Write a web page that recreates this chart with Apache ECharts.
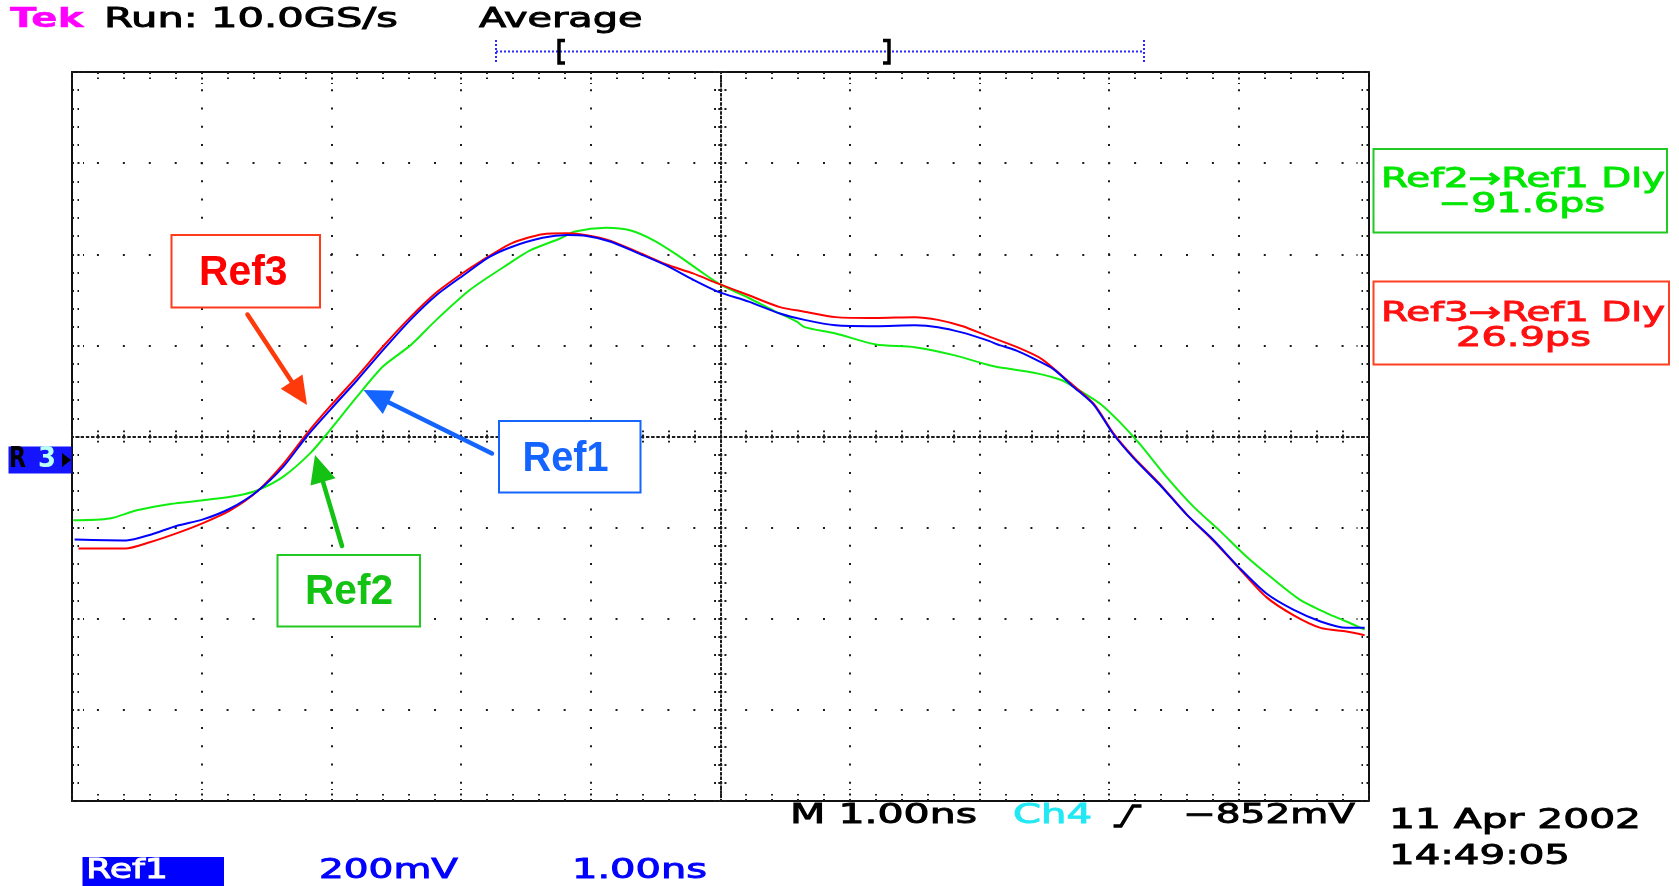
<!DOCTYPE html>
<html>
<head>
<meta charset="utf-8">
<script src="https://cdn.jsdelivr.net/npm/echarts@6/dist/echarts.min.js"></script>
<style>
  html, body { margin: 0; padding: 0; background: #ffffff; }
  #scope { width: 1679px; height: 886px; }
</style>
</head>
<body>
<div id="scope"></div>
<script>
// Horizontal: 1.00 ns/div over 10 divisions, vertical: 200 mV/div over 8 divisions
const timeRange = [-5, 5];
const timePerDiv = 1;
const voltRange = [-800, 800];
const voltPerDiv = 200;

// Reference waveforms, [time ns, level mV]
const ref1 = [
  [-4.98, -226], [-4.58, -228], [-4.40, -216], [-4.19, -196], [-3.99, -182], [-3.78, -158],
  [-3.57, -120], [-3.37, -66], [-3.19, 0], [-3.01, 58], [-2.80, 124], [-2.60, 190],
  [-2.39, 256], [-2.19, 310], [-1.98, 354], [-1.78, 394], [-1.61, 416], [-1.37, 436],
  [-1.18, 442], [-1.03, 440], [-0.85, 428], [-0.63, 402], [-0.42, 376], [-0.21, 344],
  [-0.02, 318], [0.22, 296], [0.46, 270], [0.65, 256], [0.89, 244], [1.20, 242],
  [1.50, 244], [1.68, 240], [1.87, 228], [2.05, 212], [2.16, 200], [2.29, 188],
  [2.41, 172], [2.57, 148], [2.72, 110], [2.88, 70], [3.03, 6], [3.19, -48],
  [3.39, -106], [3.60, -172], [3.80, -226], [4.01, -290], [4.21, -344], [4.42, -380],
  [4.63, -406], [4.83, -420], [4.97, -420]
];
const ref2 = [
  [-4.99, -184], [-4.71, -180], [-4.50, -162], [-4.24, -148], [-3.99, -140], [-3.73, -130],
  [-3.57, -118], [-3.37, -88], [-3.16, -36], [-3.01, 14], [-2.80, 88], [-2.60, 154],
  [-2.39, 200], [-2.19, 256], [-1.93, 322], [-1.67, 372], [-1.47, 408], [-1.24, 434],
  [-1.12, 450], [-0.88, 458], [-0.69, 452], [-0.51, 430], [-0.33, 398], [-0.15, 362],
  [0.01, 332], [0.22, 304], [0.40, 278], [0.59, 252], [0.65, 240], [0.89, 226],
  [1.20, 202], [1.50, 196], [1.81, 178], [2.11, 154], [2.42, 140], [2.63, 124],
  [2.72, 110], [2.93, 72], [3.08, 32], [3.24, -18], [3.44, -88], [3.65, -154],
  [3.85, -206], [4.06, -264], [4.27, -314], [4.47, -358], [4.68, -388], [4.83, -406],
  [4.97, -424]
];
const ref3 = [
  [-4.95, -246], [-4.59, -246], [-4.40, -232], [-4.19, -212], [-3.99, -190], [-3.78, -162],
  [-3.57, -120], [-3.37, -60], [-3.19, 6], [-3.01, 66], [-2.80, 132], [-2.60, 198],
  [-2.39, 262], [-2.19, 316], [-1.98, 360], [-1.85, 384], [-1.61, 424], [-1.37, 444],
  [-1.18, 446], [-1.03, 442], [-0.85, 430], [-0.63, 404], [-0.42, 378], [-0.21, 358],
  [-0.02, 336], [0.22, 310], [0.46, 284], [0.65, 274], [0.89, 262], [1.20, 260],
  [1.50, 262], [1.68, 256], [1.87, 242], [2.05, 222], [2.29, 196], [2.48, 170],
  [2.69, 120], [2.88, 72], [3.03, 8], [3.19, -46], [3.39, -104], [3.60, -172],
  [3.80, -228], [4.01, -292], [4.21, -352], [4.42, -392], [4.63, -420], [4.83, -428],
  [4.97, -436]
];

// Delay readouts
const delayRef2 = { label: 'Ref2\u2192Ref1 Dly', value: '\u221291.6ps' };
const delayRef3 = { label: 'Ref3\u2192Ref1 Dly', value: '26.9ps' };

// Grid geometry of the graticule
const grid = { left: 72, top: 72, right: 310.5, bottom: 85 };
const W = 1679, H = 886;
const gridW = W - grid.left - grid.right;
const gridH = H - grid.top - grid.bottom;
const xDivs = (timeRange[1] - timeRange[0]) / timePerDiv;
const yDivs = (voltRange[1] - voltRange[0]) / voltPerDiv;
const xMinorPx = gridW / xDivs / 5;
const yMinorPx = gridH / yDivs / 5;

const INK = '#1c1c1c';
const tekFont = "27px 'DejaVu Sans'";
const tekBold = "bold 27px 'DejaVu Sans'";
const calloutFont = "bold 42px 'Liberation Sans'";

const measureCtx = document.createElement('canvas').getContext('2d');
// Text stretched horizontally to span [x0, x1], vertically centred on cy
function spanText(str, x0, x1, cy, color, font, weight) {
  measureCtx.font = font;
  const w = measureCtx.measureText(str).width;
  const style = {
    text: str, x: 0, y: 0, fill: color, font: font,
    textAlign: 'left', textVerticalAlign: 'middle', align: 'left', verticalAlign: 'middle'
  };
  if (weight) { style.stroke = color; style.lineWidth = weight; }
  return {
    type: 'text', x: x0, y: cy, scaleX: (x1 - x0) / w, originX: 0, originY: 0, z: 20,
    style: style
  };
}
const tekText = (str, x0, x1, cy, color) => spanText(str, x0, x1, cy, color, tekFont, 0.9);

function box(x0, y0, x1, y1, stroke, fill) {
  return {
    type: 'rect', z: 15,
    shape: { x: x0, y: y0, width: x1 - x0, height: y1 - y0 },
    style: { fill: fill || '#ffffff', stroke: stroke, lineWidth: 2 }
  };
}
function arrow(x1, y1, x2, y2, color) {
  const dx = x2 - x1, dy = y2 - y1, L = Math.hypot(dx, dy);
  const ux = dx / L, uy = dy / L, hl = 28, hw = 13;
  const bx = x2 - ux * hl, by = y2 - uy * hl;
  return [
    { type: 'line', z: 16, shape: { x1: x1, y1: y1, x2: bx + ux * 3, y2: by + uy * 3 },
      style: { stroke: color, lineWidth: 4.5, lineCap: 'round' } },
    { type: 'polygon', z: 16,
      shape: { points: [[x2, y2], [bx - uy * hw, by + ux * hw], [bx + uy * hw, by - ux * hw]] },
      style: { fill: color } }
  ];
}

const dot = (gap) => ({ color: INK, width: 2, type: [2, gap], dashOffset: 1 });
const frameTick = {
  show: true, inside: true, length: 12,
  lineStyle: { color: INK, width: 2, type: [2, 3.5] }
};
const frameMinor = {
  show: true, splitNumber: 5, length: 7,
  lineStyle: { color: INK, width: 2, type: [2, 3.5] }
};
function frameAxis(position, range, interval, splitGap) {
  return {
    type: 'value', position: position, min: range[0], max: range[1], interval: interval,
    axisLine: { show: true, onZero: false, lineStyle: { color: '#111', width: 2 } },
    axisTick: frameTick, minorTick: frameMinor,
    axisLabel: { show: false },
    splitLine: { show: splitGap != null, lineStyle: splitGap != null ? dot(splitGap) : {} },
    minorSplitLine: { show: false }
  };
}
function centreAxis(position, range, interval, inside, tickLen, period) {
  return {
    type: 'value', position: position, min: range[0], max: range[1], interval: interval,
    axisLine: { show: true, onZero: true, onZeroAxisIndex: 0,
      lineStyle: { color: INK, width: 2, type: [1.5, period - 1.5], dashOffset: 0.75 } },
    axisTick: { show: true, inside: inside, length: tickLen,
      lineStyle: { color: INK, width: 2, type: [2, 2.2] } },
    axisLabel: { show: false },
    splitLine: { show: false }
  };
}

const graphics = [];
// Header
graphics.push(spanText('Tek', 10, 83.5, 20, '#ff00ff', tekBold, 0.4));
graphics.push(tekText('Run: 10.0GS/s', 104, 398, 20, '#000000'));
graphics.push(tekText('Average', 479, 642.5, 20, '#000000'));
// Record window bar
graphics.push({ type: 'line', z: 10, shape: { x1: 496, y1: 51.5, x2: 1144, y2: 51.5 },
  style: { stroke: '#2a2aff', lineWidth: 2, lineDash: [2, 2] } });
graphics.push({ type: 'line', z: 10, shape: { x1: 496, y1: 40, x2: 496, y2: 63.5 },
  style: { stroke: '#2a2aff', lineWidth: 2, lineDash: [2, 2] } });
graphics.push({ type: 'line', z: 10, shape: { x1: 1144, y1: 40, x2: 1144, y2: 63.5 },
  style: { stroke: '#2a2aff', lineWidth: 2, lineDash: [2, 2] } });
graphics.push({ type: 'polyline', z: 11, shape: { points: [[565, 40.5], [559, 40.5], [559, 63], [565, 63]] },
  style: { stroke: '#000', lineWidth: 3.5, fill: null } });
graphics.push({ type: 'polyline', z: 11, shape: { points: [[883, 40.5], [889, 40.5], [889, 63], [883, 63]] },
  style: { stroke: '#000', lineWidth: 3.5, fill: null } });

// Reference ground marker
graphics.push({ type: 'rect', z: 10, shape: { x: 8.5, y: 446.5, width: 63, height: 27 },
  style: { fill: '#1414ff' } });
graphics.push(spanText('R', 9, 26, 460, '#000000', "bold 28px 'DejaVu Sans'"));
graphics.push(spanText('3', 38, 56, 460, '#b8fff4', "bold 28px 'DejaVu Sans'"));
graphics.push({ type: 'polygon', z: 11, shape: { points: [[62, 453], [71, 460], [62, 467]] },
  style: { fill: '#000000' } });

// Delay readouts
graphics.push(box(1373.5, 149, 1667, 232.5, '#22c922'));
graphics.push(tekText(delayRef2.label, 1381, 1665, 180, '#00e600'));
graphics.push(tekText(delayRef2.value, 1438, 1605, 205, '#00e600'));
graphics.push(box(1373.5, 281.5, 1669, 364.5, '#ff4020'));
graphics.push(tekText(delayRef3.label, 1381, 1665, 314, '#ff1010'));
graphics.push(tekText(delayRef3.value, 1456, 1591, 339, '#ff1010'));

// Callouts
graphics.push(box(171.5, 235, 320, 307.5, '#ff3b1e'));
graphics.push(spanText('Ref3', 199, 287.5, 273, '#ff0000', calloutFont));
graphics.push(...arrow(247.5, 314.5, 307, 405, '#ff3a0a'));
graphics.push(box(499, 421, 640.5, 492.5, '#1565ff'));
graphics.push(spanText('Ref1', 522.5, 608.5, 459.5, '#1464ff', calloutFont));
graphics.push(...arrow(492, 453.5, 363.5, 390, '#1464ff'));
graphics.push(box(277.5, 555, 420, 626.5, '#22c922'));
graphics.push(spanText('Ref2', 305, 393, 592, '#14c214', calloutFont));
graphics.push(...arrow(342, 546, 315, 455, '#14c214'));

// Status line
graphics.push(tekText('M 1.00ns', 790, 977, 816, '#000000'));
graphics.push(tekText('Ch4', 1013, 1092, 816, '#22e8f4'));
graphics.push({ type: 'polyline', z: 11,
  shape: { points: [[1113.5, 826], [1121, 826], [1133, 806], [1141.5, 806]] },
  style: { stroke: '#000', lineWidth: 3.5, fill: null } });
graphics.push(tekText('\u2212852mV', 1183, 1355, 816, '#000000'));
graphics.push(tekText('11 Apr 2002', 1389, 1641, 821, '#000000'));
graphics.push(tekText('14:49:05', 1389, 1570, 857, '#000000'));
graphics.push({ type: 'rect', z: 10, shape: { x: 82.5, y: 857, width: 141.5, height: 29 },
  style: { fill: '#0000ff' } });
graphics.push(tekText('Ref1', 86, 168, 871, '#ffffff'));
graphics.push(tekText('200mV', 319, 458, 871, '#0000ff'));
graphics.push(tekText('1.00ns', 572, 707, 871, '#0000ff'));

const chart = echarts.init(document.getElementById('scope'), null, { renderer: 'canvas' });
chart.setOption({
  animation: false,
  backgroundColor: '#ffffff',
  grid: {
    left: grid.left, top: grid.top, right: grid.right, bottom: grid.bottom,
    containLabel: false, outerBoundsMode: 'none'
  },
  xAxis: [
    frameAxis('bottom', timeRange, timePerDiv, yMinorPx - 2),
    frameAxis('top', timeRange, timePerDiv, null),
    centreAxis('bottom', timeRange, timePerDiv / 5, true, 6, xMinorPx / 5),
    centreAxis('bottom', timeRange, timePerDiv / 5, false, 6, xMinorPx / 5)
  ],
  yAxis: [
    frameAxis('left', voltRange, voltPerDiv, xMinorPx - 2),
    frameAxis('right', voltRange, voltPerDiv, null),
    centreAxis('left', voltRange, voltPerDiv / 5, true, 8, yMinorPx / 4),
    centreAxis('left', voltRange, voltPerDiv / 5, false, 8, yMinorPx / 4)
  ],
  series: [
    { name: 'Ref2', type: 'line', data: ref2, xAxisIndex: 0, yAxisIndex: 0, z: 3,
      symbol: 'none', smooth: 0.25, lineStyle: { color: '#10ee10', width: 2 }, clip: true },
    { name: 'Ref3', type: 'line', data: ref3, xAxisIndex: 0, yAxisIndex: 0, z: 4,
      symbol: 'none', smooth: 0.25, lineStyle: { color: '#ff0000', width: 2 }, clip: true },
    { name: 'Ref1', type: 'line', data: ref1, xAxisIndex: 0, yAxisIndex: 0, z: 5,
      symbol: 'none', smooth: 0.25, lineStyle: { color: '#0000ff', width: 2 }, clip: true }
  ],
  graphic: { elements: graphics }
});
</script>
</body>
</html>
